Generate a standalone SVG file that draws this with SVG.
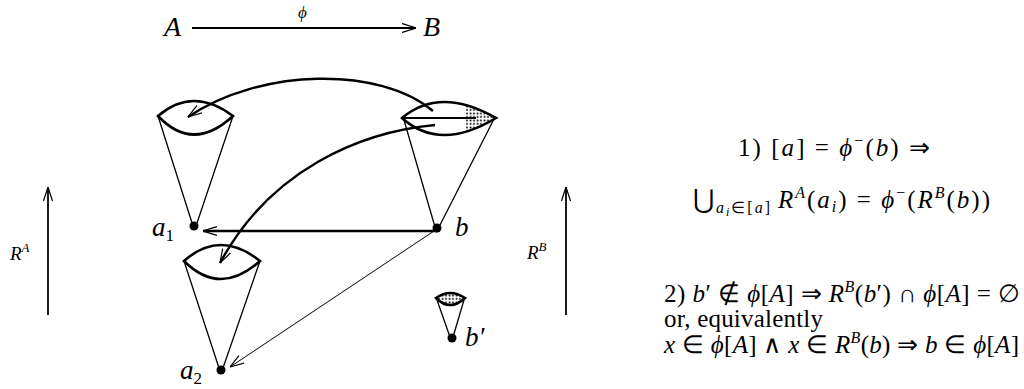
<svg xmlns="http://www.w3.org/2000/svg" width="1024" height="389" viewBox="0 0 1024 389">
<style>
text{font-family:"Liberation Serif","Times New Roman",serif;fill:#000}
.i{font-style:italic}
.lens{stroke:#000;stroke-width:2.6;fill:none;stroke-linejoin:miter}
.cone{stroke:#000;stroke-width:1.3;fill:none}
.thick{stroke:#000;stroke-width:2.4;fill:none}
.mid{stroke:#000;stroke-width:1.8;fill:none}
.thin{stroke:#000;stroke-width:1;fill:none}
</style>
<defs>
<marker id="ah" viewBox="0 0 14 10" refX="14" refY="5" markerWidth="14" markerHeight="10" markerUnits="userSpaceOnUse" orient="auto">
<path d="M0,0.5 L14,5 L0,9.5" fill="none" stroke="#000" stroke-width="1.2"/>
</marker>
<pattern id="dots" width="3.5" height="3.5" patternUnits="userSpaceOnUse">
<circle cx="1.5" cy="1.5" r="1" fill="#000"/>
</pattern>
<clipPath id="bclip"><path d="M402,118 Q440,86 496,118 Q440,152 402,118 Z"/></clipPath>
</defs>

<g id="node-A"><text x="164" y="36" font-size="28" class="i">A</text></g>
<g id="node-B"><text x="423" y="36" font-size="28" class="i">B</text></g>

<g id="node-a1">
<path class="lens" d="M158,116 Q193,86 233,116 Q193,153 158,116 Z"/>
<path class="cone" d="M158,116 L193,226 M233,116 L196,226"/>
<circle cx="194" cy="226" r="4.5" fill="#000"/>
<text x="152" y="236" font-size="27" class="i">a<tspan font-size="17" dy="5" font-style="normal">1</tspan></text>
</g>

<g id="node-b">
<rect x="466" y="100" width="32" height="40" fill="url(#dots)" clip-path="url(#bclip)"/>
<path class="lens" d="M402,118 Q440,86 496,118 Q440,152 402,118 Z"/>
<path class="mid" d="M402,118 L476,118"/>
<path class="cone" d="M404,120 L435,227 M494,119 L439,227"/>
<circle cx="437" cy="228" r="4.5" fill="#000"/>
<text x="455" y="236" font-size="27" class="i">b</text>
</g>

<g id="node-a2">
<path class="lens" d="M184,261 Q220,229 260,261 Q220,297 184,261 Z"/>
<path class="cone" d="M184,261 L219,368 M260,261 L223,368"/>
<circle cx="221" cy="370" r="4.5" fill="#000"/>
<text x="180" y="379" font-size="27" class="i">a<tspan font-size="17" dy="5" font-style="normal">2</tspan></text>
</g>

<g id="node-bprime">
<path d="M436,298 Q450,288 465,298 Q450,312 436,298 Z" fill="url(#dots)"/>
<path class="lens" d="M436,298 Q450,288 465,298 Q450,312 436,298 Z"/>
<path class="cone" d="M437,300 L450,337 M464,300 L453,337"/>
<circle cx="452" cy="338" r="4.5" fill="#000"/>
<text x="465" y="346" font-size="27" class="i">b′</text>
</g>

<g id="connectors">
<path class="mid" d="M192,28 L416,28" marker-end="url(#ah)"/>
<text x="298" y="18" font-size="17" class="i">ϕ</text>
<path class="thick" d="M433,111 C380,66 260,68 188,117" marker-end="url(#ah)"/>
<path class="thick" d="M435,125 C360,132 270,170 220,263" marker-end="url(#ah)"/>
<path class="thick" d="M437,231 L203,231" marker-end="url(#ah)"/>
<path class="thin" d="M437,229 L230,367" marker-end="url(#ah)"/>
<path class="mid" d="M48,315 L48,187" marker-end="url(#ah)"/>
<path class="mid" d="M566,315 L566,187" marker-end="url(#ah)"/>
<text x="10" y="260" font-size="19" class="i">R<tspan font-size="13" dy="-8">A</tspan></text>
<text x="527" y="259" font-size="19" class="i">R<tspan font-size="13" dy="-8">B</tspan></text>
</g>

<g id="formulas">
<text x="738" y="156" font-size="25" textLength="192" lengthAdjust="spacing">1) [<tspan class="i">a</tspan>] = <tspan class="i">ϕ</tspan><tspan font-size="16" dy="-10">−</tspan><tspan dy="10">(</tspan><tspan class="i">b</tspan>) ⇒</text>
<text x="693" y="208" font-size="25" textLength="297" lengthAdjust="spacing"><tspan font-size="26">⋃</tspan><tspan font-size="16" dy="5" class="i">a</tspan><tspan font-size="12" dy="3" class="i">i</tspan><tspan font-size="16" dy="-3">∈[</tspan><tspan font-size="16" class="i">a</tspan><tspan font-size="16">] </tspan><tspan dy="-5" class="i">R</tspan><tspan font-size="16" dy="-10" class="i">A</tspan><tspan dy="10">(</tspan><tspan class="i">a</tspan><tspan font-size="16" dy="4" class="i">i</tspan><tspan dy="-4">) = </tspan><tspan class="i">ϕ</tspan><tspan font-size="16" dy="-10">−</tspan><tspan dy="10">(</tspan><tspan class="i">R</tspan><tspan font-size="16" dy="-10" class="i">B</tspan><tspan dy="10">(</tspan><tspan class="i">b</tspan>))</text>
<text x="664" y="302" font-size="25" textLength="356" lengthAdjust="spacing">2) <tspan class="i">b</tspan>′ ∉ <tspan class="i">ϕ</tspan>[<tspan class="i">A</tspan>] ⇒ <tspan class="i">R</tspan><tspan font-size="16" dy="-10" class="i">B</tspan><tspan dy="10">(</tspan><tspan class="i">b</tspan>′) ∩ <tspan class="i">ϕ</tspan>[<tspan class="i">A</tspan>] = ∅</text>
<text x="664" y="327" font-size="25" textLength="159" lengthAdjust="spacing">or, equivalently</text>
<text x="664" y="353" font-size="25" textLength="355" lengthAdjust="spacing"><tspan class="i">x</tspan> ∈ <tspan class="i">ϕ</tspan>[<tspan class="i">A</tspan>] ∧ <tspan class="i">x</tspan> ∈ <tspan class="i">R</tspan><tspan font-size="16" dy="-10" class="i">B</tspan><tspan dy="10">(</tspan><tspan class="i">b</tspan>) ⇒ <tspan class="i">b</tspan> ∈ <tspan class="i">ϕ</tspan>[<tspan class="i">A</tspan>]</text>
</g>
</svg>
